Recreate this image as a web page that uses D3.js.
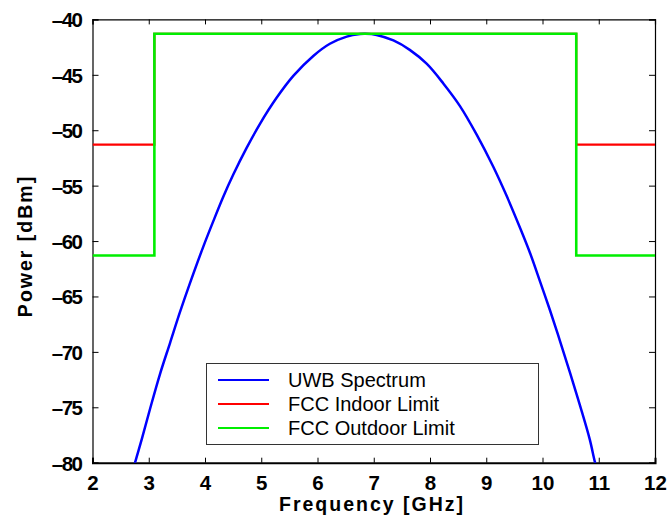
<!DOCTYPE html>
<html><head><meta charset="utf-8">
<script src="https://cdn.jsdelivr.net/npm/d3@7"></script>
<style>body{margin:0;background:#fff}svg{display:block}</style>
</head><body><div id="chart"></div>
<script>
// Data
const xTicks = [2,3,4,5,6,7,8,9,10,11,12];
const yTicks = [-40,-45,-50,-55,-60,-65,-70,-75,-80];
const uwbFreq = [2.70,2.756,2.875,3.02,3.2,3.378,3.556,3.733,3.97,4.148,4.325,4.503,4.74,4.98,5.27,5.57,5.925,6.22,6.52,6.756,6.85,7.05,7.35,7.64,7.94,8.24,8.53,8.83,9.125,9.36,9.6,9.78,9.96,10.13,10.31,10.49,10.67,10.84,10.93,11.0];
const uwbPower = [-81.1,-80.0,-77.9,-75.2,-72.0,-69.2,-66.4,-63.8,-60.5,-58.2,-56.0,-54.0,-51.6,-49.4,-47.1,-45.1,-43.3,-42.2,-41.55,-41.32,-41.3,-41.4,-41.9,-42.75,-44.0,-45.8,-47.8,-50.4,-53.3,-55.9,-58.8,-61.1,-63.7,-66.2,-69.0,-71.9,-74.9,-77.9,-79.9,-81.2];
const limitFreq = [2,3.1,3.1,10.6,10.6,12];
const indoorPower = [-51.3,-51.3,-41.3,-41.3,-51.3,-51.3];
const outdoorPower = [-61.3,-61.3,-41.3,-41.3,-61.3,-61.3];
const seriesNames = ["UWB Spectrum","FCC Indoor Limit","FCC Outdoor Limit"];
const seriesColors = ["#0000ff","#ff0000","#00ee00"];

const W=668,H=516;
const L=92.5,R=655,T=19.4,B=462.7;
const svg=d3.select("#chart").append("svg").attr("width",W).attr("height",H);
const x=d3.scaleLinear().domain([2,12]).range([L,R]);
const y=d3.scaleLinear().domain([-80,-40]).range([B,T]);

svg.append("clipPath").attr("id","clip").append("rect").attr("x",L).attr("y",T).attr("width",R-L).attr("height",B-T);

const font="'Liberation Sans', Arial, sans-serif";
const fmt=d=>d<0?"\u2013"+Math.abs(d):""+d;

// axes with inward ticks
const gB=svg.append("g").attr("transform",`translate(0,${B})`)
  .call(d3.axisBottom(x).tickValues(xTicks).tickSize(-5).tickPadding(13).tickFormat(d=>d));
const gT=svg.append("g").attr("transform",`translate(0,${T})`)
  .call(d3.axisTop(x).tickValues(xTicks).tickSize(-5).tickFormat(""));
const gL=svg.append("g").attr("transform",`translate(${L},0)`)
  .call(d3.axisLeft(y).tickValues(yTicks).tickSize(-6).tickPadding(11).tickFormat(fmt));
const gR=svg.append("g").attr("transform",`translate(${R},0)`)
  .call(d3.axisRight(y).tickValues(yTicks).tickSize(-6).tickFormat(""));
[gB,gT,gL,gR].forEach(g=>{
  g.selectAll(".domain").attr("stroke","#000").attr("stroke-width",1.2);
  g.selectAll(".tick line").attr("stroke","#000").attr("stroke-width",1);
  g.selectAll("text").attr("font-family",font).attr("font-weight","bold").attr("font-size",20.5).attr("fill","#000");
});
gB.select(".domain").attr("stroke-width",2);
gL.selectAll("text").attr("letter-spacing",-1.5).attr("dy","0.36em");

const line=d3.line().x(d=>x(d[0])).y(d=>y(d[1]));
const plot=svg.append("g").attr("clip-path","url(#clip)");
plot.append("path").datum(uwbFreq.map((f,i)=>[f,uwbPower[i]]))
  .attr("d",line.curve(d3.curveCatmullRom)).attr("fill","none").attr("stroke",seriesColors[0]).attr("stroke-width",2.5);
const stepLine=d3.line().x(d=>x(d[0])).y(d=>y(d[1]));
plot.append("path").datum(limitFreq.map((f,i)=>[f,indoorPower[i]]))
  .attr("d",stepLine).attr("fill","none").attr("stroke",seriesColors[1]).attr("stroke-width",2.2);
plot.append("path").datum(limitFreq.map((f,i)=>[f,outdoorPower[i]]))
  .attr("d",stepLine).attr("fill","none").attr("stroke",seriesColors[2]).attr("stroke-width",2.6);

// legend
const lg=svg.append("g");
lg.append("rect").attr("x",206.5).attr("y",363.5).attr("width",332).attr("height",81)
  .attr("fill","#fff").attr("stroke","#333").attr("stroke-width",1);
seriesNames.forEach((n,i)=>{
  const yy=380+i*24;
  lg.append("line").attr("x1",218).attr("x2",269).attr("y1",yy).attr("y2",yy).attr("stroke",seriesColors[i]).attr("stroke-width",1.8);
  lg.append("text").attr("x",288).attr("y",yy+7).text(n).attr("font-family",font).attr("font-size",20).attr("fill","#000");
});

// axis labels
svg.append("text").attr("x",372).attr("y",511).attr("text-anchor","middle").attr("font-family",font)
  .attr("font-weight","bold").attr("font-size",19.5).attr("letter-spacing",2).text("Frequency [GHz]");
svg.append("text").attr("transform","translate(32,246) rotate(-90)").attr("text-anchor","middle").attr("font-family",font)
  .attr("font-weight","bold").attr("font-size",19.5).attr("letter-spacing",2).text("Power [dBm]");
</script></body></html>
